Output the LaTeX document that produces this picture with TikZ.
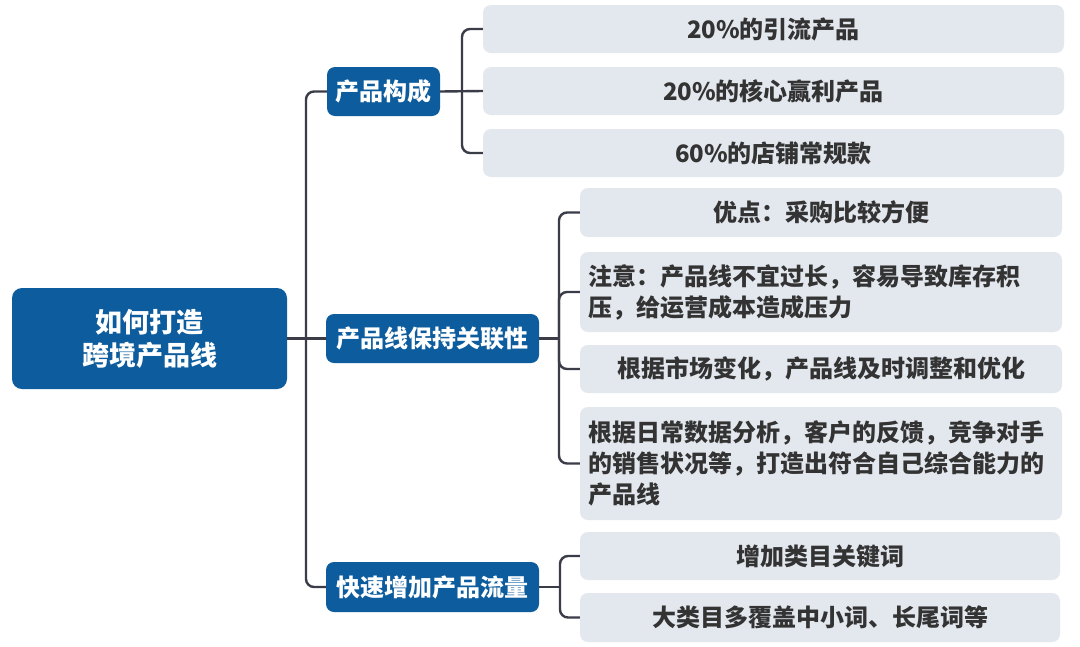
\documentclass[tikz,border=0pt]{standalone}
\usepackage{fontspec}
\setmainfont{Noto Sans CJK SC}
\usetikzlibrary{calc}
\definecolor{mainblue}{HTML}{0D5C9D}
\definecolor{leafbg}{HTML}{E3E7EE}
\definecolor{leaftext}{HTML}{333333}
\definecolor{conncol}{HTML}{3A3D48}
\tikzset{
  rootbox/.style={fill=mainblue, rounded corners=10pt, text=white, align=center,
    font=\fontsize{27}{33}\selectfont\bfseries, inner sep=0pt},
  branchbox/.style={fill=mainblue, rounded corners=8pt, text=white,
    font=\fontsize{24}{30}\selectfont\bfseries, inner sep=0pt},
  leafbox/.style={fill=leafbg, rounded corners=8pt, text=leaftext,
    font=\fontsize{24}{31}\selectfont\bfseries, inner sep=0pt},
  leafmulti/.style={leafbox, align=left, inner xsep=8pt},
  conn/.style={draw=conncol, line width=2.4pt, rounded corners=8pt},
}
\begin{document}
\begin{tikzpicture}[x=1pt,y=-1pt]
\useasboundingbox (0,0) rectangle (1080,646);
\fill[white] (0,0) rectangle (1080,646);
% root
\node[rootbox, minimum width=275pt, minimum height=101pt] (root) at (149.5,338.5) {如何打造\\跨境产品线};
% branches
\node[branchbox, minimum width=113pt, minimum height=49pt] (b1) at (383.5,91.5) {产品构成};
\node[branchbox, minimum width=213pt, minimum height=49pt] (b2) at (432.5,338.5) {产品线保持关联性};
\node[branchbox, minimum width=213pt, minimum height=50pt] (b3) at (432.5,587) {快速增加产品流量};
% leaves column 1
\node[leafbox, minimum width=581pt, minimum height=48pt] (l1) at (773.5,29) {20\%的引流产品};
\node[leafbox, minimum width=581pt, minimum height=48pt] (l2) at (773.5,91) {20\%的核心赢利产品};
\node[leafbox, minimum width=581pt, minimum height=48pt] (l3) at (773.5,153) {60\%的店铺常规款};
% leaves column 2
\node[leafbox, minimum width=482pt, minimum height=49pt] (l4) at (821,212.5) {优点：采购比较方便};
\node[leafmulti, text width=466pt, minimum height=80pt] (l5) at (821,292) {注意：产品线不宜过长，容易导致库存积\\压，给运营成本造成压力};
\node[leafbox, minimum width=482pt, minimum height=48pt] (l6) at (821,369) {根据市场变化，产品线及时调整和优化};
\node[leafmulti, text width=466pt, minimum height=113pt] (l7) at (821,463.5) {根据日常数据分析，客户的反馈，竞争对手\\的销售状况等，打造出符合自己综合能力的\\产品线};
% leaves column 3
\node[leafbox, minimum width=480pt, minimum height=48pt] (l8) at (820,556) {增加类目关键词};
\node[leafbox, minimum width=480pt, minimum height=49pt] (l9) at (820,617.5) {大类目多覆盖中小词、长尾词等};
% junction coordinates
\coordinate (tk) at (306,338.5);
\coordinate (k1) at (462,91.5);
\coordinate (k2) at (559,338.5);
\coordinate (k3) at (560,587);
% connectors
\draw[conn] (root.east) -- (b2.west);
\draw[conn] (b1.west) -| (tk) |- (b3.west);
\draw[conn] (b1.east) -- (l2.west);
\draw[conn] (l1.west) -| (k1) |- (l3.west);
\draw[conn] (b2.east) -- (k2);
\draw[conn] (k2) |- (l4.west);
\draw[conn] (k2) |- (l5.west);
\draw[conn] (k2) |- (l6.west);
\draw[conn] (k2) |- (l7.west);
\draw[conn] (b3.east) -- (k3);
\draw[conn] (k3) |- (l8.west);
\draw[conn] (k3) |- (l9.west);
\end{tikzpicture}
\end{document}
